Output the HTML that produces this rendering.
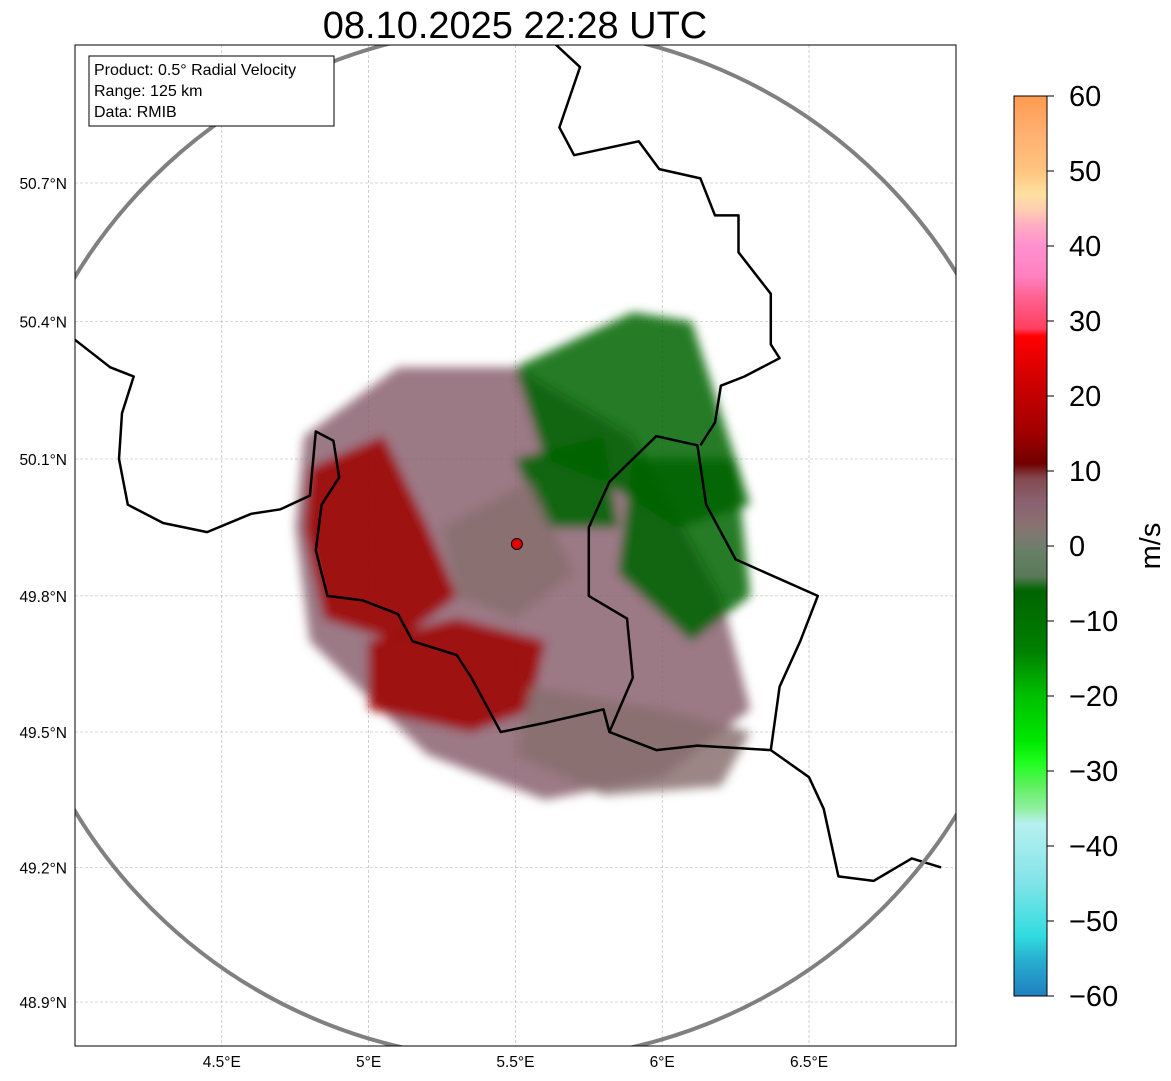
<!DOCTYPE html>
<html><head><meta charset="utf-8">
<style>
body{margin:0;background:#fff;width:1171px;height:1081px;overflow:hidden;font-family:"Liberation Sans","DejaVu Sans",sans-serif;}
svg{position:absolute;left:0;top:0}
</style></head><body>
<svg id="chart" width="1171" height="1081" xmlns="http://www.w3.org/2000/svg">
<defs>
<linearGradient id="cbgrad" x1="0" y1="0" x2="0" y2="1"></linearGradient>
<clipPath id="plotclip"><rect x="75" y="45" width="881" height="1001"/></clipPath>
<filter id="blur4"><feGaussianBlur stdDeviation="5"/></filter>
</defs>
<text x="515" y="38" font-size="38" text-anchor="middle">08.10.2025 22:28 UTC</text>
<g id="plot" clip-path="url(#plotclip)">
<g id="grid"></g>
<g id="radar" filter="url(#blur4)"></g>
<g id="borders"></g>
<circle id="range" fill="none" stroke="#808080" stroke-width="4"/>
<circle id="site" r="5.5" fill="#e00000" stroke="#000" stroke-width="1"/>
</g>
<rect x="75" y="45" width="881" height="1001" fill="none" stroke="#000" stroke-width="1"/>
<g id="xticks"></g>
<g id="yticks"></g>
<g>
<rect x="89" y="56" width="245" height="70" fill="#fff" stroke="#000" stroke-width="1"/>
<text x="94" y="75" font-size="16">Product: 0.5° Radial Velocity</text>
<text x="94" y="96" font-size="16">Range: 125 km</text>
<text x="94" y="117" font-size="16">Data: RMIB</text>
</g>
<rect x="1014" y="96" width="33" height="900" fill="url(#cbgrad)" stroke="#000" stroke-width="1"/>
<g id="cbticks"></g>
<text transform="translate(1160,546) rotate(-90)" font-size="29" text-anchor="middle">m/s</text>
</svg>
<script>
const lonTicks=[4.5,5,5.5,6,6.5];
const latTicks=[48.9,49.2,49.5,49.8,50.1,50.4,50.7];
const cbTicks=[-60,-50,-40,-30,-20,-10,0,10,20,30,40,50,60];
const cbValues=[60,55,50,47,45,43,40,36,33,29,28,22,15,11,9,6,3,1,-1,-4,-6,-14,-20,-26,-29,-32,-35,-37,-45,-52,-55,-60];
const cbColors=["#ff9a50","#ffb070","#ffc480","#ffe0a0","#ffd0b0","#ffb0c0","#ff90d0","#ff80c0","#ff6090","#ff4060","#ff0000","#d00000","#a00000","#700000","#844a50","#8a6070","#8a7070","#7a7a70","#668066","#5a7a5a","#006400","#008000","#00c000","#00e800","#20ff20","#60f060","#90f0a0","#b8f0f0","#80e4e8","#30dce0","#28b0d0","#2080c0"];
const siteLon=5.505, siteLat=49.914, rangeKm=125;
const echoVel=[4,14,14,-12,-12,-8,3,3];
const echoPolys=[
 [[4.78,50.15],[5.1,50.3],[5.5,50.3],[5.9,50.15],[6.2,49.8],[6.3,49.55],[6.0,49.4],[5.6,49.35],[5.2,49.45],[4.8,49.7],[4.75,49.95]],
 [[4.8,50.08],[5.05,50.15],[5.2,49.95],[5.3,49.8],[5.1,49.7],[4.85,49.75],[4.78,49.95]],
 [[5.0,49.7],[5.3,49.75],[5.6,49.7],[5.55,49.55],[5.35,49.5],[5.0,49.55]],
 [[5.5,50.3],[5.9,50.42],[6.1,50.4],[6.2,50.2],[6.3,50.0],[6.05,49.95],[5.8,50.05],[5.6,50.1]],
 [[5.9,50.1],[6.25,50.1],[6.3,49.8],[6.1,49.7],[5.85,49.85]],
 [[5.5,50.1],[5.8,50.15],[5.85,49.95],[5.6,49.95]],
 [[5.55,49.6],[6.0,49.55],[6.3,49.5],[6.2,49.38],[5.8,49.36],[5.5,49.45]],
 [[5.25,49.95],[5.55,50.05],[5.7,49.85],[5.5,49.75],[5.3,49.8]]
];
const borderFRBE=[[4.0,50.36],[4.12,50.3],[4.2,50.28],[4.16,50.2],[4.15,50.1],[4.18,50.0],[4.3,49.96],[4.45,49.94],[4.6,49.98],[4.7,49.99],[4.8,50.02],[4.82,50.16],[4.88,50.14],[4.9,50.06],[4.84,50.0],[4.82,49.9],[4.86,49.8],[4.98,49.79],[5.1,49.76],[5.15,49.7],[5.3,49.67],[5.35,49.62],[5.45,49.5],[5.6,49.52],[5.8,49.55],[5.82,49.5],[5.98,49.46],[6.12,49.47],[6.37,49.46],[6.5,49.4],[6.55,49.33],[6.6,49.18],[6.72,49.17],[6.85,49.22],[6.95,49.2]];
const borderLU=[[5.82,49.5],[5.9,49.62],[5.88,49.75],[5.75,49.8],[5.75,49.95],[5.82,50.05],[5.98,50.15],[6.12,50.13],[6.15,50.0],[6.25,49.88],[6.53,49.8],[6.47,49.7],[6.4,49.6],[6.37,49.46]];
const borderBEDE=[[5.635,51.0],[5.72,50.95],[5.65,50.82],[5.70,50.76],[5.92,50.79],[5.99,50.73],[6.13,50.71],[6.18,50.63],[6.26,50.63],[6.26,50.55],[6.37,50.46],[6.37,50.35],[6.40,50.32],[6.28,50.28],[6.2,50.26],[6.18,50.18],[6.13,50.13]];
const NS='http://www.w3.org/2000/svg';
function xs(lon){return 75+(lon-4.0)*293.6;}
function ys(lat){return 732-(lat-49.5)*452.5*(1+(lat-49.5)*0.0092);}
function mk(tag,attrs,parent){const e=document.createElementNS(NS,tag);for(const k in attrs)e.setAttribute(k,attrs[k]);parent.appendChild(e);return e;}
function velColor(v){let i=0;while(i<cbValues.length-1&&cbValues[i+1]>=v)i++;return cbColors[i];}
const grad=document.getElementById('cbgrad');
cbValues.forEach((v,i)=>{mk('stop',{offset:((60-v)/120).toFixed(4),'stop-color':cbColors[i]},grad);});
const grid=document.getElementById('grid'),xt=document.getElementById('xticks'),yt=document.getElementById('yticks');
lonTicks.forEach(l=>{const x=xs(l);
 const g=mk('line',{x1:x,x2:x,y1:45,y2:1046,stroke:'#b0b0b0','stroke-width':0.6,'stroke-dasharray':'3,2'},grid);
 
 const t=mk('text',{x:x,y:1067,'font-size':15.5,'text-anchor':'middle'},xt);t.textContent=l+'°E';
 });
latTicks.forEach(l=>{const y=ys(l);
 const g=mk('line',{x1:75,x2:956,y1:y,y2:y,stroke:'#b0b0b0','stroke-width':0.6,'stroke-dasharray':'3,2'},grid);
 
 const t=mk('text',{x:67,y:y+6,'font-size':15.5,'text-anchor':'end'},yt);t.textContent=l.toFixed(1)+'°N';
 });
const radar=document.getElementById('radar');
echoPolys.forEach((p,i)=>{const pts=p.map(q=>xs(q[0]).toFixed(1)+','+ys(q[1]).toFixed(1)).join(' ');
 const e=mk('polygon',{points:pts,fill:velColor(echoVel[i]),opacity:0.85},radar);
 });
const bd=document.getElementById('borders');
[borderFRBE,borderLU,borderBEDE].forEach(b=>{const pts=b.map(q=>xs(q[0]).toFixed(1)+','+ys(q[1]).toFixed(1)).join(' ');
 const e=mk('polyline',{points:pts,fill:'none',stroke:'#000','stroke-width':2.5,'stroke-linejoin':'round'},bd);
 });
const cx=xs(siteLon),cy=ys(siteLat);
const rc=document.getElementById('range');rc.setAttribute('cx',cx);rc.setAttribute('cy',cy);rc.setAttribute('r',rangeKm*4.13);
const st=document.getElementById('site');st.setAttribute('cx',cx);st.setAttribute('cy',cy);
const cb=document.getElementById('cbticks');
cbTicks.forEach(v=>{const y=96+(60-v)/120*900;
 const l=mk('line',{x1:1047,x2:1054,y1:y,y2:y,stroke:'#000','stroke-width':1},cb);
 
 const t=mk('text',{x:1069,y:y+10,'font-size':29},cb);t.textContent=v<0?'\u2212'+(-v):String(v);
 });
</script>
</body></html>
